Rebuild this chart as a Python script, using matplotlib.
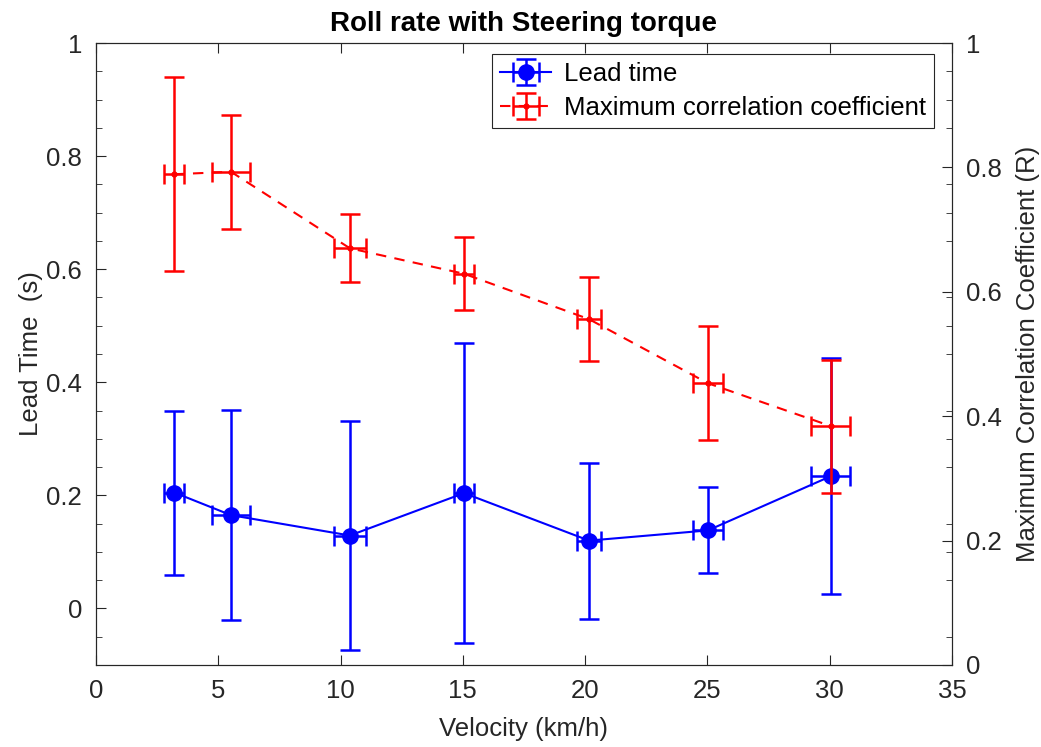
import matplotlib.pyplot as plt
from matplotlib.ticker import MultipleLocator

plt.rcParams['font.family'] = ['Liberation Sans', 'DejaVu Sans']

# Velocity (km/h) and its spread
velocity = [3.2, 5.52, 10.38, 15.05, 20.16, 25.02, 30.05]
velocity_err = [0.41, 0.78, 0.65, 0.4, 0.48, 0.61, 0.8]

# Lead time (s)
lead_time = [0.205, 0.165, 0.129, 0.204, 0.120, 0.138, 0.234]
lead_time_err = [0.145, 0.186, 0.203, 0.265, 0.138, 0.076, 0.209]

# Maximum correlation coefficient (R)
max_corr = [0.789, 0.793, 0.670, 0.629, 0.556, 0.453, 0.384]
max_corr_err = [0.156, 0.092, 0.055, 0.059, 0.068, 0.092, 0.107]

dark = '#262626'
fs = 18.5

fig = plt.figure(figsize=(10.41, 7.47), dpi=100)
ax = fig.add_axes([0.0922, 0.1098, 0.8223, 0.8326])
ax2 = ax.twinx()

h1 = ax.errorbar(velocity, lead_time, yerr=lead_time_err, xerr=velocity_err,
                 color='blue', marker='o', markersize=11, linestyle='-',
                 linewidth=1.5, elinewidth=1.8, capsize=7, capthick=1.8)
h2 = ax2.errorbar(velocity, max_corr, yerr=max_corr_err, xerr=velocity_err,
                  color='red', marker='.', markersize=7, linestyle='--',
                  dashes=(5, 4), linewidth=1.5, elinewidth=1.8, capsize=7, capthick=1.8)

ax.set_xlim(0, 35)
ax.set_ylim(-0.1, 1)
ax2.set_ylim(0, 1)
ax.xaxis.set_major_locator(MultipleLocator(5))
ax.set_yticks([0, 0.2, 0.4, 0.6, 0.8, 1])
ax.set_yticklabels(['0', '0.2', '0.4', '0.6', '0.8', '1'])
ax.yaxis.set_minor_locator(MultipleLocator(0.05))
ax2.set_yticks([0, 0.2, 0.4, 0.6, 0.8, 1])
ax2.set_yticklabels(['0', '0.2', '0.4', '0.6', '0.8', '1'])

ax.tick_params(axis='both', which='major', direction='in', length=7, labelsize=fs,
               colors=dark, top=True, width=0.8, pad=10)
ax.tick_params(axis='y', which='minor', direction='in', length=4, right=True,
               colors=dark, width=0.6)
ax2.tick_params(axis='y', which='major', direction='in', length=7, labelsize=fs,
                colors=dark, width=0.8, pad=10)

for a in (ax, ax2):
    for s in a.spines.values():
        s.set_color(dark)
        s.set_linewidth(0.8)

ax.set_xlabel('Velocity (km/h)', fontsize=fs, color=dark, labelpad=10)
ax.set_ylabel('Lead Time  (s)', fontsize=fs, color=dark, labelpad=2)
ax2.set_ylabel('Maximum Correlation Coefficient (R)', fontsize=fs, color=dark, labelpad=10)
ax.set_title('Roll rate with Steering torque', fontsize=20, fontweight='bold', pad=9)

leg = ax2.legend([h1, h2], ['Lead time', 'Maximum correlation coefficient'],
                 loc='upper right', bbox_to_anchor=(0.982, 0.986), fontsize=fs,
                 fancybox=False, framealpha=1, edgecolor=dark, borderpad=0.3,
                 handletextpad=0.5, labelspacing=0.4, handlelength=2.0,
                 borderaxespad=0.1)
leg.get_frame().set_linewidth(0.8)

fig.savefig('out.png', dpi=100)
